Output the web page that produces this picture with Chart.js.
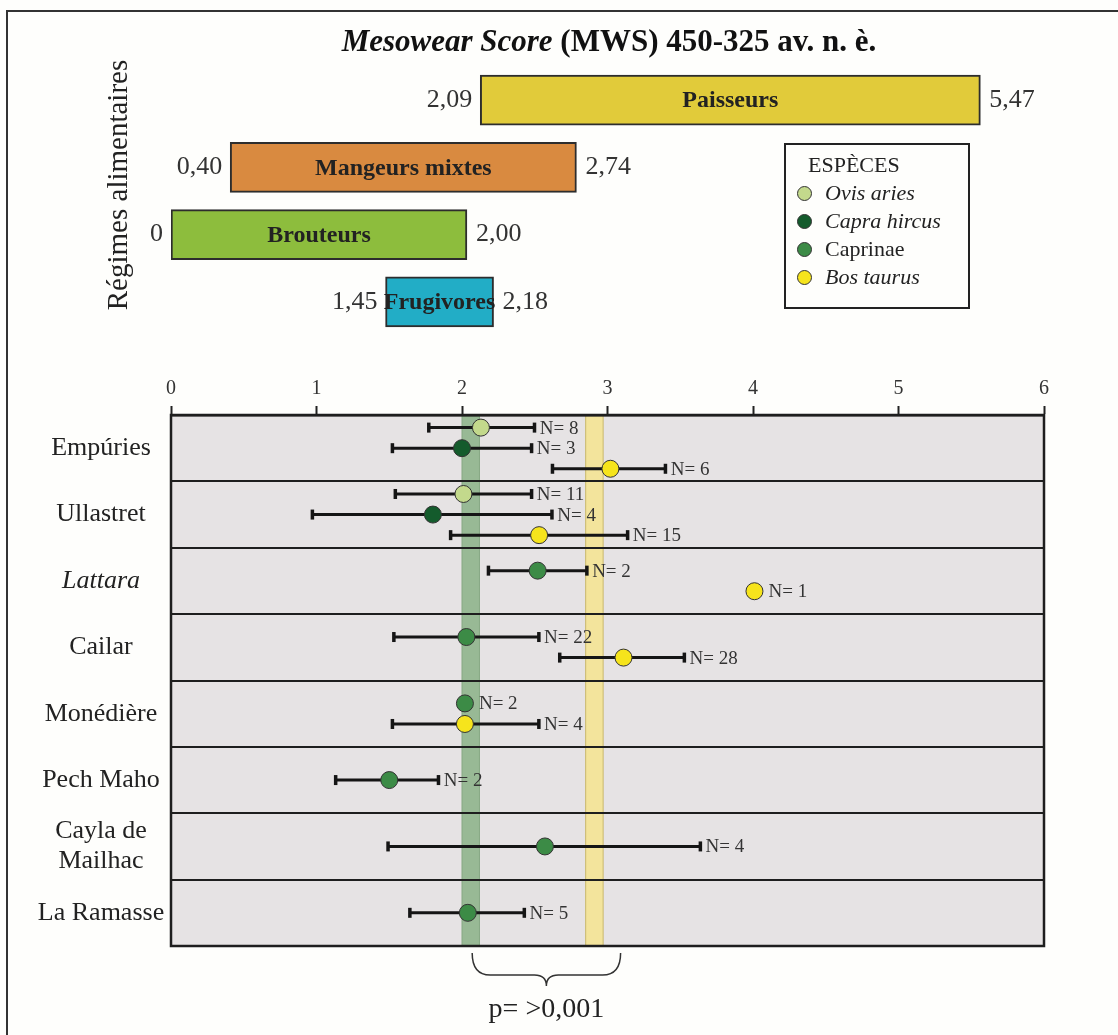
<!DOCTYPE html>
<html>
<head>
<meta charset="utf-8">
<script src="https://cdn.jsdelivr.net/npm/chart.js@4/dist/chart.umd.min.js"></script>
<style>
html, body { margin: 0; padding: 0; background: #fefefc; overflow: hidden; }
#page { position: relative; width: 1118px; height: 1035px; overflow: hidden; }
#frame { position: absolute; left: 6px; top: 10px; width: 1300px; height: 1200px; border: 2px solid #333; box-sizing: border-box; }
#top { position: absolute; left: 0; top: 0; }
#bottom { position: absolute; left: 0; top: 340px; }
#legend { position: absolute; left: 784px; top: 143px; width: 186px; height: 166px; border: 2px solid #222;
  box-sizing: border-box; padding: 6px 0 0 0; font-family: "Liberation Serif", serif; font-size: 22px; color: #222; }
#legend .lt { line-height: 28px; padding-left: 22px; }
#legend .li { display: flex; align-items: center; height: 28px; padding-left: 11px; }
#legend .dot { width: 15px; height: 15px; border-radius: 50%; border: 1px solid #333; box-sizing: border-box; margin-right: 13px; }
</style>
</head>
<body>
<div id="page">
  <div id="frame"></div>
  <canvas id="top" width="1118" height="340"></canvas>
  <canvas id="bottom" width="1118" height="695"></canvas>
  <div id="legend"></div>
</div>
<script>
// feeding regimes (upper bars)
const regimes = ['Paisseurs', 'Mangeurs mixtes', 'Brouteurs', 'Frugivores'];
const regimeLow = [2.09, 0.40, 0, 1.45];
const regimeHigh = [5.47, 2.74, 2.00, 2.18];
const regimeColors = ['#e1cb3a', '#d98a40', '#8dbd3d', '#22adc6'];

// sites and species
const sites = ['Empúries', 'Ullastret', 'Lattara', 'Cailar', 'Monédière', 'Pech Maho', 'Cayla de\nMailhac', 'La Ramasse'];
const species = ['Ovis aries', 'Capra hircus', 'Caprinae', 'Bos taurus'];
const speciesColors = ['#c3d98c', '#145b2c', '#3c8b46', '#f6e41c'];

// one entry per observation
const obsSite    = [0, 0, 0, 1, 1, 1, 2, 2, 3, 3, 4, 4, 5, 6, 7];
const obsSpecies = [0, 1, 3, 0, 1, 3, 2, 3, 2, 3, 2, 3, 2, 2, 2];
const obsMean    = [2.13, 2.00, 3.02, 2.01, 1.80, 2.53, 2.52, 4.01, 2.03, 3.11, 2.02, 2.02, 1.50, 2.57, 2.04];
const obsMin     = [1.77, 1.52, 2.62, 1.54, 0.97, 1.92, 2.18, 4.01, 1.53, 2.67, 2.02, 1.52, 1.13, 1.49, 1.64];
const obsMax     = [2.50, 2.48, 3.40, 2.48, 2.62, 3.14, 2.86, 4.01, 2.53, 3.53, 2.02, 2.53, 1.84, 3.64, 2.43];
const obsN       = [8, 3, 6, 11, 4, 15, 2, 1, 22, 28, 2, 4, 2, 4, 5];

// shaded reference bands
const bandLow = [2.00, 2.85];
const bandHigh = [2.12, 2.97];
const bandColors = ['#98b995', '#f3e49c'];
const bandEdges = ['#86a883', '#c9b86c'];

const xTicks = [0, 1, 2, 3, 4, 5, 6];
const pText = 'p= >0,001';

const SERIF = '"Liberation Serif", serif';
const fmt = v => v === 0 ? '0' : v.toFixed(2).replace('.', ',');
const italicNames = ['Lattara', 'Ovis aries', 'Capra hircus', 'Bos taurus'];

// y position of an observation inside its site row
function rowY(i) {
  const same = [];
  obsSite.forEach((s, j) => { if (s === obsSite[i]) same.push(j); });
  const k = same.indexOf(i), n = same.length;
  return obsSite[i] + 0.5 + (k - (n - 1) / 2) * 0.31;
}

// ---------- upper chart ----------
const topLabels = {
  id: 'topLabels',
  afterDatasetsDraw(chart) {
    const ctx = chart.ctx;
    const meta = chart.getDatasetMeta(0);
    ctx.save();
    ctx.fillStyle = '#222';
    ctx.textBaseline = 'middle';
    meta.data.forEach((bar, i) => {
      const l = Math.min(bar.x, bar.base), r = Math.max(bar.x, bar.base);
      ctx.font = 'bold 24px ' + SERIF;
      ctx.textAlign = 'center';
      ctx.fillText(regimes[i], (l + r) / 2, bar.y + 1);
      ctx.font = '26px ' + SERIF;
      ctx.fillStyle = '#333';
      ctx.textAlign = 'right';
      ctx.fillText(fmt(regimeLow[i]), l - 8, bar.y);
      ctx.textAlign = 'left';
      ctx.fillText(fmt(regimeHigh[i]), r + 9, bar.y);
      ctx.fillStyle = '#222';
    });
    // title, mixed italic / bold
    const parts = [['italic bold 31px ' + SERIF, 'Mesowear Score'], ['bold 31px ' + SERIF, ' (MWS) 450-325 av. n. è.']];
    let w = 0;
    parts.forEach(p => { ctx.font = p[0]; w += ctx.measureText(p[1]).width; });
    let x = 609 - w / 2;
    ctx.textAlign = 'left';
    ctx.textBaseline = 'alphabetic';
    ctx.fillStyle = '#111';
    parts.forEach(p => { ctx.font = p[0]; ctx.fillText(p[1], x, 51); x += ctx.measureText(p[1]).width; });
    // rotated axis title
    ctx.save();
    ctx.translate(127, 185);
    ctx.rotate(-Math.PI / 2);
    ctx.font = '29px ' + SERIF;
    ctx.textAlign = 'center';
    ctx.fillStyle = '#222';
    ctx.fillText('Régimes alimentaires', 0, 0);
    ctx.restore();
    ctx.restore();
  }
};

new Chart(document.getElementById('top'), {
  type: 'bar',
  data: {
    labels: regimes,
    datasets: [{
      data: regimes.map((r, i) => [regimeLow[i], regimeHigh[i]]),
      backgroundColor: regimeColors,
      borderColor: '#2d2d2d',
      borderWidth: 2,
      borderSkipped: false,
      barThickness: 50
    }]
  },
  options: {
    responsive: false,
    animation: false,
    indexAxis: 'y',
    layout: { padding: { left: 171, right: 74, top: 66.4, bottom: 4.4 } },
    scales: {
      x: { display: false, min: 0, max: 5.9 },
      y: { display: false }
    },
    plugins: { legend: { display: false }, tooltip: { enabled: false } }
  },
  plugins: [topLabels]
});

// ---------- lower chart ----------
const panel = {
  id: 'panel',
  beforeDraw(chart) {
    const { ctx, chartArea: a, scales: { x } } = chart;
    ctx.save();
    ctx.fillStyle = '#e6e3e4';
    ctx.fillRect(a.left, a.top, a.right - a.left, a.bottom - a.top);
    bandLow.forEach((lo, i) => {
      const x0 = x.getPixelForValue(lo), x1 = x.getPixelForValue(bandHigh[i]);
      ctx.fillStyle = bandColors[i];
      ctx.fillRect(x0, a.top, x1 - x0, a.bottom - a.top);
      ctx.strokeStyle = bandEdges[i];
      ctx.lineWidth = 1;
      ctx.beginPath();
      ctx.moveTo(x0, a.top); ctx.lineTo(x0, a.bottom);
      ctx.moveTo(x1, a.top); ctx.lineTo(x1, a.bottom);
      ctx.stroke();
    });
    ctx.restore();
  },
  beforeDatasetsDraw(chart) {
    const { ctx, scales: { x, y } } = chart;
    ctx.save();
    ctx.fillStyle = '#151515';
    ctx.strokeStyle = '#151515';
    obsMean.forEach((m, i) => {
      if (obsMax[i] <= obsMin[i]) return;
      const py = y.getPixelForValue(rowY(i));
      const x0 = x.getPixelForValue(obsMin[i]), x1 = x.getPixelForValue(obsMax[i]);
      ctx.lineWidth = 3;
      ctx.beginPath();
      ctx.moveTo(x0, py); ctx.lineTo(x1, py);
      ctx.stroke();
      ctx.fillRect(x0 - 1.5, py - 5, 3.5, 10);
      ctx.fillRect(x1 - 2, py - 5, 3.5, 10);
    });
    ctx.restore();
  },
  afterDatasetsDraw(chart) {
    const { ctx, scales: { x, y } } = chart;
    ctx.save();
    ctx.font = '19px ' + SERIF;
    ctx.fillStyle = '#333';
    ctx.textAlign = 'left';
    ctx.textBaseline = 'middle';
    obsMean.forEach((m, i) => {
      const py = y.getPixelForValue(rowY(i));
      const hasBar = obsMax[i] > obsMin[i];
      const px = hasBar ? x.getPixelForValue(obsMax[i]) + 5 : x.getPixelForValue(m) + 14;
      ctx.fillText('N= ' + obsN[i], px, py + 1);
    });
    ctx.restore();
  },
  afterDraw(chart) {
    const { ctx, chartArea: a, scales: { x, y } } = chart;
    ctx.save();
    ctx.strokeStyle = '#1e1e1e';
    ctx.lineWidth = 2.5;
    ctx.strokeRect(a.left, a.top, a.right - a.left, a.bottom - a.top);
    // site names
    ctx.fillStyle = '#222';
    ctx.textAlign = 'center';
    ctx.textBaseline = 'middle';
    sites.forEach((s, i) => {
      const lines = s.split('\n');
      const cy = y.getPixelForValue(i + 0.5);
      ctx.font = (italicNames.includes(s) ? 'italic ' : '') + '26px ' + SERIF;
      lines.forEach((ln, k) => ctx.fillText(ln, 101, cy + (k - (lines.length - 1) / 2) * 30));
    });
    // brace under the two bands
    const x1 = x.getPixelForValue(2.07), x2 = x.getPixelForValue(3.09), xm = (x1 + x2) / 2;
    const yt = a.bottom + 7, ym = a.bottom + 29, yp = a.bottom + 40;
    ctx.strokeStyle = '#333';
    ctx.lineWidth = 1.5;
    ctx.beginPath();
    ctx.moveTo(x1, yt);
    ctx.quadraticCurveTo(x1, ym, x1 + 18, ym);
    ctx.lineTo(xm - 12, ym);
    ctx.quadraticCurveTo(xm, ym, xm, yp);
    ctx.quadraticCurveTo(xm, ym, xm + 12, ym);
    ctx.lineTo(x2 - 18, ym);
    ctx.quadraticCurveTo(x2, ym, x2, yt);
    ctx.stroke();
    ctx.font = '28px ' + SERIF;
    ctx.textBaseline = 'alphabetic';
    ctx.fillText(pText, xm, a.bottom + 71);
    ctx.restore();
  }
};

new Chart(document.getElementById('bottom'), {
  type: 'scatter',
  data: {
    datasets: species.map((sp, s) => ({
      label: sp,
      data: obsMean.map((m, i) => ({ x: m, y: rowY(i), s: obsSpecies[i] })).filter(p => p.s === s),
      backgroundColor: speciesColors[s],
      borderColor: '#333',
      borderWidth: 1,
      pointRadius: 8.5,
      pointHoverRadius: 8.5
    }))
  },
  options: {
    responsive: false,
    animation: false,
    layout: { padding: { left: 171, right: 74, top: 35, bottom: 89 } },
    scales: {
      x: {
        type: 'linear',
        position: 'top',
        min: 0,
        max: 6,
        afterBuildTicks: s => { s.ticks = xTicks.map(v => ({ value: v })); },
        afterFit: s => { s.height = 40; },
        ticks: { font: { family: SERIF, size: 20 }, color: '#333', padding: 5 },
        grid: { drawOnChartArea: false, tickLength: 9, tickColor: '#222', tickWidth: 2 },
        border: { color: '#1e1e1e', width: 2.5 }
      },
      y: {
        type: 'linear',
        min: 0,
        max: sites.length,
        reverse: true,
        afterBuildTicks: s => { s.ticks = sites.map((n, i) => ({ value: i })).concat([{ value: sites.length }]); },
        afterFit: s => { s.width = 0; },
        ticks: { display: false },
        grid: { color: '#1e1e1e', lineWidth: 2, drawTicks: false },
        border: { display: false }
      }
    },
    plugins: { legend: { display: false }, tooltip: { enabled: false } }
  },
  plugins: [panel]
});

// legend box
document.getElementById('legend').innerHTML = '<div class="lt">ESPÈCES</div>' +
  species.map((s, i) => '<div class="li"><span class="dot" style="background:' + speciesColors[i] + '"></span>' +
    '<span style="font-style:' + (italicNames.includes(s) ? 'italic' : 'normal') + '">' + s + '</span></div>').join('');
</script>
</body>
</html>
